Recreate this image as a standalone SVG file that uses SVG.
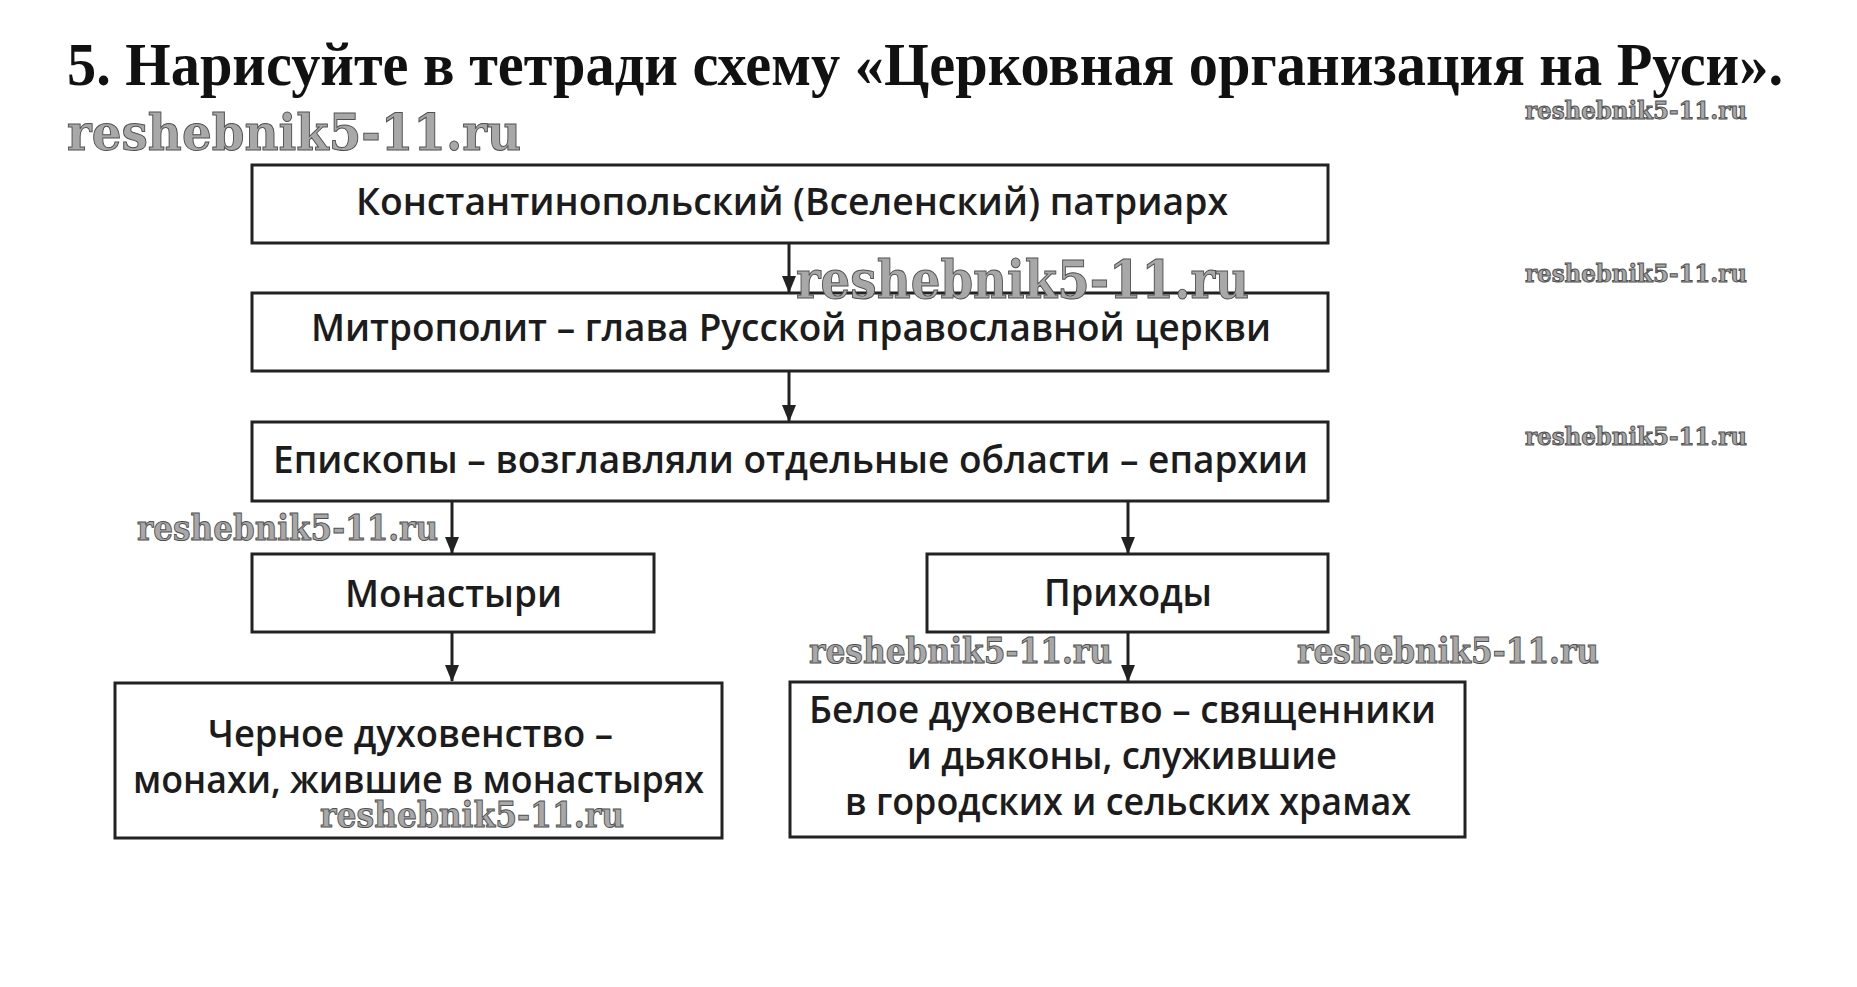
<svg xmlns="http://www.w3.org/2000/svg" width="1857" height="987" viewBox="0 0 1857 987">
<style>
.bg{fill:#ffffff}
.box{fill:#ffffff;stroke:#222;stroke-width:3}
.t{font-family:"Open Sans","Noto Sans","DejaVu Sans",sans-serif;font-weight:600;font-size:37px;fill:#1c1c1c}
.title{font-family:"Liberation Serif","Times New Roman",serif;font-weight:bold;font-size:61px;fill:#111}
.wm{font-family:"DejaVu Serif","Liberation Serif",serif;font-weight:bold;fill:#a8a8a8;stroke:#505050;stroke-width:1}
.conn{stroke:#222;stroke-width:3;fill:none}
</style>
<defs>
<marker id="ah" markerUnits="userSpaceOnUse" markerWidth="14" markerHeight="17" refX="7" refY="16" orient="auto-start-reverse" viewBox="0 0 14 17">
<path d="M0,0 L14,0 L7,17 Z" fill="#222" transform="rotate(0)"/>
</marker>
</defs>
<rect class="bg" x="0" y="0" width="1857" height="987"/>
<text class="title" x="67" y="85" textLength="1716" lengthAdjust="spacingAndGlyphs">5. Нарисуйте в тетради схему «Церковная организация на Руси».</text>

<g id="connectors">
<line class="conn" x1="789" y1="244" x2="789" y2="292"/>
<path d="M782,276 L796,276 L789,293 Z" fill="#222"/>
<line class="conn" x1="789" y1="371" x2="789" y2="421"/>
<path d="M782,405 L796,405 L789,422 Z" fill="#222"/>
<line class="conn" x1="452" y1="502" x2="452" y2="553"/>
<path d="M445,537 L459,537 L452,554 Z" fill="#222"/>
<line class="conn" x1="1128" y1="502" x2="1128" y2="553"/>
<path d="M1121,537 L1135,537 L1128,554 Z" fill="#222"/>
<line class="conn" x1="452" y1="633" x2="452" y2="681"/>
<path d="M445,665 L459,665 L452,682 Z" fill="#222"/>
<line class="conn" x1="1128" y1="633" x2="1128" y2="681"/>
<path d="M1121,665 L1135,665 L1128,682 Z" fill="#222"/>
</g>

<g id="node-patriarch">
<rect class="box" x="252" y="165" width="1076" height="78"/>
<text class="t" x="356" y="215" textLength="872" lengthAdjust="spacingAndGlyphs">Константинопольский (Вселенский) патриарх</text>
</g>
<g id="node-metropolitan">
<rect class="box" x="252" y="293" width="1076" height="78"/>
<text class="t" x="311" y="341" textLength="960" lengthAdjust="spacingAndGlyphs">Митрополит – глава Русской православной церкви</text>
</g>
<g id="node-bishops">
<rect class="box" x="252" y="422" width="1076" height="79"/>
<text class="t" x="273" y="473" textLength="1035" lengthAdjust="spacingAndGlyphs">Епископы – возглавляли отдельные области – епархии</text>
</g>
<g id="node-monasteries">
<rect class="box" x="252" y="554" width="402" height="78"/>
<text class="t" x="345" y="607" textLength="217" lengthAdjust="spacingAndGlyphs">Монастыри</text>
</g>
<g id="node-parishes">
<rect class="box" x="927" y="554" width="401" height="78"/>
<text class="t" x="1044" y="606" textLength="168" lengthAdjust="spacingAndGlyphs">Приходы</text>
</g>
<g id="node-black-clergy">
<rect class="box" x="115" y="683" width="607" height="155"/>
<text class="t" x="208" y="747" textLength="405" lengthAdjust="spacingAndGlyphs">Черное духовенство –</text>
<text class="t" x="133" y="793" textLength="571" lengthAdjust="spacingAndGlyphs">монахи, жившие в монастырях</text>
</g>
<g id="node-white-clergy">
<rect class="box" x="790" y="682" width="675" height="155"/>
<text class="t" x="809" y="723" textLength="627" lengthAdjust="spacingAndGlyphs">Белое духовенство – священники</text>
<text class="t" x="907" y="769" textLength="430" lengthAdjust="spacingAndGlyphs">и дьяконы, служившие</text>
<text class="t" x="845" y="815" textLength="566" lengthAdjust="spacingAndGlyphs">в городских и сельских храмах</text>
</g>

<g id="watermarks">
<text class="wm" x="67" y="150" font-size="50" textLength="454" lengthAdjust="spacingAndGlyphs">reshebnik5-11.ru</text>
<text class="wm" x="1525" y="119" font-size="24" textLength="222" lengthAdjust="spacingAndGlyphs" stroke-width="0.6">reshebnik5-11.ru</text>
<text class="wm" x="796" y="298" font-size="52" textLength="453" lengthAdjust="spacingAndGlyphs">reshebnik5-11.ru</text>
<text class="wm" x="1525" y="282" font-size="24" textLength="222" lengthAdjust="spacingAndGlyphs" stroke-width="0.6">reshebnik5-11.ru</text>
<text class="wm" x="1525" y="445" font-size="24" textLength="222" lengthAdjust="spacingAndGlyphs" stroke-width="0.6">reshebnik5-11.ru</text>
<text class="wm" x="137" y="540" font-size="36" textLength="301" lengthAdjust="spacingAndGlyphs">reshebnik5-11.ru</text>
<text class="wm" x="809" y="663" font-size="36" textLength="303" lengthAdjust="spacingAndGlyphs">reshebnik5-11.ru</text>
<text class="wm" x="1297" y="663" font-size="36" textLength="302" lengthAdjust="spacingAndGlyphs">reshebnik5-11.ru</text>
<text class="wm" x="320" y="827" font-size="36" textLength="304" lengthAdjust="spacingAndGlyphs">reshebnik5-11.ru</text>
</g>
</svg>
